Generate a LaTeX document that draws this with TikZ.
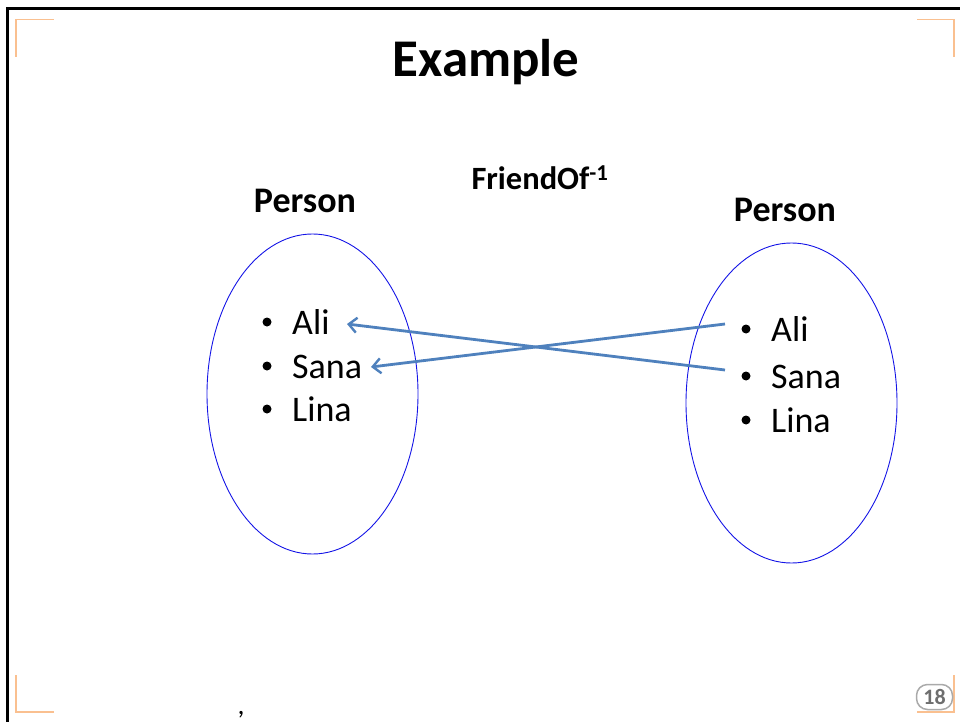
\documentclass[tikz,border=0pt]{standalone}
\usepackage{fontspec}
\setmainfont{Carlito}
\usetikzlibrary{arrows.meta,shapes.geometric}
\definecolor{frameline}{RGB}{0,0,0}
\definecolor{cornermark}{RGB}{250,192,144}
\definecolor{setblue}{RGB}{20,20,230}
\definecolor{mapblue}{RGB}{79,129,189}
\definecolor{pagegray}{RGB}{110,110,110}
\definecolor{pageframe}{RGB}{170,170,170}
\tikzset{
  corner/.style={draw=cornermark, line width=1.3pt},
  setoval/.style={draw=setblue, line width=0.9pt, ellipse, inner sep=0pt},
  heading/.style={font=\bfseries\fontsize{36}{40}\selectfont, inner sep=0pt},
  member/.style={font=\fontsize{36}{40}\selectfont, inner sep=0pt, anchor=base west},
  dot/.style={circle, fill=black, inner sep=0pt, minimum size=9pt},
  mapsto/.style={draw=mapblue, line width=2.8pt, -{Straight Barb[length=8pt,width=15pt,line width=2.4pt]}},
}
\begin{document}
\begin{tikzpicture}[x=1pt,y=-1pt]
\useasboundingbox (0,0) rectangle (960,722);
% slide frame (left and top edges)
\draw[frameline, line width=3pt] (7.5,722) -- (7.5,8.5) -- (960,8.5);
% corner marks
\draw[corner] (16,57) -- (16,19.5) -- (54,19.5);
\draw[corner] (917,19.5) -- (954,19.5) -- (954,57);
\draw[corner] (16,675) -- (16,712) -- (54,712);
\draw[corner] (917,712) -- (954,712) -- (954,675);
% title
\node[font=\bfseries\fontsize{53}{58}\selectfont, inner sep=0pt] (title) at (486,62) {Example};
% set labels
\node[heading] (lperson) at (305,201) {Person};
\node[heading] (rperson) at (785,210) {Person};
\node[font=\bfseries\fontsize{32.5}{36}\selectfont, inner sep=0pt] (rel) at (540,178) {FriendOf\textsuperscript{-1}};
% the two sets
\node[setoval, minimum width=211pt, minimum height=320pt] (lset) at (312.5,394) {};
\node[setoval, minimum width=211pt, minimum height=320pt] (rset) at (791.5,403) {};
% members of the left set
\node[member] (lali) at (292,334) {Ali};
\node[member] (lsana) at (292,378) {Sana};
\node[member] (llina) at (292,421) {Lina};
\node[dot] (lalidot) at (267,322) {};
\node[dot] (lsanadot) at (267,366) {};
\node[dot] (llinadot) at (267,409) {};
% members of the right set
\node[member] (rali) at (771,341) {Ali};
\node[member] (rsana) at (771,388) {Sana};
\node[member] (rlina) at (771,432) {Lina};
\node[dot] (ralidot) at (746,329) {};
\node[dot] (rsanadot) at (746,376) {};
\node[dot] (rlinadot) at (746,420) {};
% inverse mapping
\coordinate (rfromali) at (725,324);
\coordinate (rfromsana) at (725,370);
\coordinate (ltoali) at (347,324);
\coordinate (ltosana) at (371,367);
\draw[mapsto] (rfromali) -- (ltosana);
\draw[mapsto] (rfromsana) -- (ltoali);
% stray comma in the footer
\node[font=\fontsize{28}{30}\selectfont, inner sep=0pt] (comma) at (241,715) {,};
% slide number
\node[draw=pageframe, line width=1.5pt, rounded corners=11pt, minimum width=36pt, minimum height=25pt,
      text=pagegray, font=\bfseries\fontsize{22}{24}\selectfont, inner sep=0pt] (pagenum) at (934.5,697) {18};
\end{tikzpicture}
\end{document}
